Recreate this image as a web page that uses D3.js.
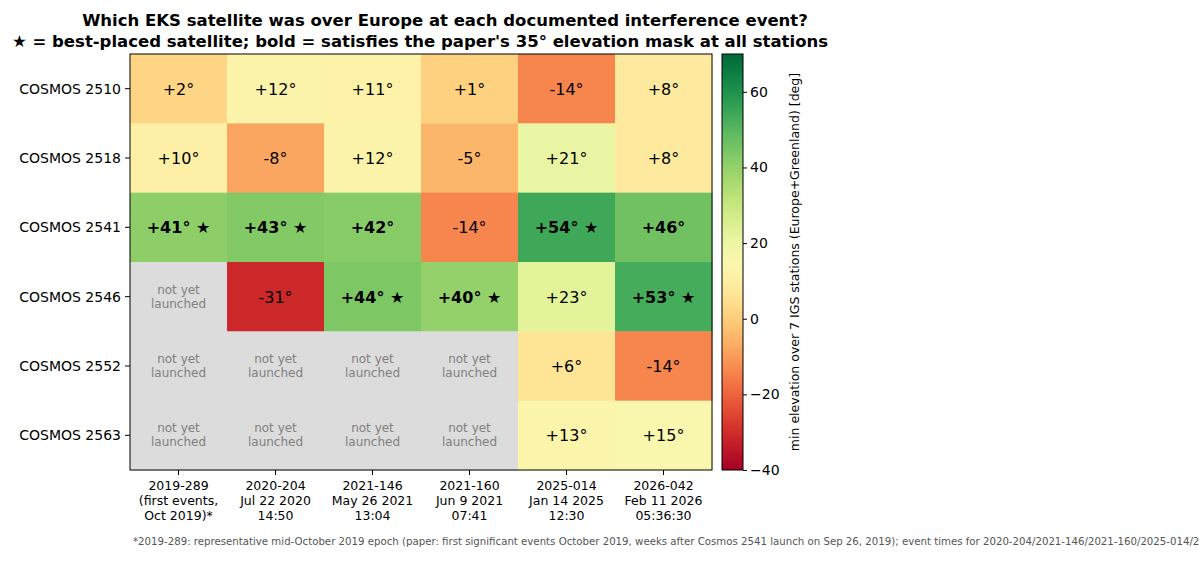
<!DOCTYPE html><html><head><meta charset="utf-8">
<script src="https://cdn.jsdelivr.net/npm/d3@7"></script>
<style>body{margin:0;background:#fff;font-family:"DejaVu Sans",sans-serif}</style></head><body>
<svg id="c" width="1199" height="563"></svg>
<script>
const sats=["COSMOS 2510","COSMOS 2518","COSMOS 2541","COSMOS 2546","COSMOS 2552","COSMOS 2563"];
const events=[["2019-289","(first events,","Oct 2019)*"],["2020-204","Jul 22 2020","14:50"],["2021-146","May 26 2021","13:04"],["2021-160","Jun 9 2021","07:41"],["2025-014","Jan 14 2025","12:30"],["2026-042","Feb 11 2026","05:36:30"]];
// null = not yet launched
const values=[[2,12,11,1,-14,8],[10,-8,12,-5,21,8],[41,43,42,-14,54,46],[null,-31,44,40,23,53],[null,null,null,null,6,-14],[null,null,null,null,13,15]];
const best=[[0,0,0,0,0,0],[0,0,0,0,0,0],[1,1,0,0,1,0],[0,0,1,1,0,1],[0,0,0,0,0,0],[0,0,0,0,0,0]];
const cbTicks=[-40,-20,0,20,40,60];
const svg=d3.select("#c");
const x=d3.scaleBand().domain(d3.range(6)).range([130,712]);
const y=d3.scaleBand().domain(d3.range(6)).range([54,470]);
const color=v=>d3.interpolateRdYlGn((v+40)/110);
svg.append("text").attr("x",445).attr("y",26).attr("text-anchor","middle").attr("font-size",16.5).attr("font-weight","bold").text("Which EKS satellite was over Europe at each documented interference event?");
svg.append("text").attr("x",420).attr("y",47).attr("text-anchor","middle").attr("font-size",16.5).attr("font-weight","bold").text("★ = best-placed satellite; bold = satisfies the paper's 35° elevation mask at all stations");
values.forEach((row,i)=>row.forEach((v,j)=>{
  const cx=x(j)+x.bandwidth()/2, cy=y(i)+y.bandwidth()/2;
  svg.append("rect").attr("x",x(j)).attr("y",y(i)).attr("width",x.bandwidth()+0.5).attr("height",y.bandwidth()+0.5).attr("fill",v==null?"#dcdcdc":color(v));
  if(v==null){
    svg.append("text").attr("x",cx).attr("y",cy-3).attr("text-anchor","middle").attr("font-size",12).attr("fill","#808080").text("not yet");
    svg.append("text").attr("x",cx).attr("y",cy+11).attr("text-anchor","middle").attr("font-size",12).attr("fill","#808080").text("launched");
  } else {
    const t=(v>0?"+":"")+v+"°"+(best[i][j]?" ★":"");
    svg.append("text").attr("x",cx).attr("y",cy+6).attr("text-anchor","middle").attr("font-size",16).attr("font-weight",v>=35?"bold":"normal").text(t);
  }
}));
svg.append("rect").attr("x",130).attr("y",54).attr("width",582).attr("height",416).attr("fill","none").attr("stroke","#000");
sats.forEach((s,i)=>{const cy=y(i)+y.bandwidth()/2;
  svg.append("line").attr("x1",125).attr("x2",130).attr("y1",cy).attr("y2",cy).attr("stroke","#000");
  svg.append("text").attr("x",121).attr("y",cy+5).attr("text-anchor","end").attr("font-size",14).text(s);});
events.forEach((e,j)=>{const cx=x(j)+x.bandwidth()/2;
  svg.append("line").attr("x1",cx).attr("x2",cx).attr("y1",470).attr("y2",475).attr("stroke","#000");
  e.forEach((l,k)=>svg.append("text").attr("x",cx).attr("y",490+k*15).attr("text-anchor","middle").attr("font-size",12.5).text(l));});
svg.append("text").attr("x",133).attr("y",545).attr("font-size",10.2).attr("fill","#555").text("*2019-289: representative mid-October 2019 epoch (paper: first significant events October 2019, weeks after Cosmos 2541 launch on Sep 26, 2019); event times for 2020-204/2021-146/2021-160/2025-014/2026-042 from the paper");
// colorbar
const cb=d3.scaleLinear().domain([-40,70]).range([470,54]);
const defs=svg.append("defs");const g=defs.append("linearGradient").attr("id","g").attr("x1",0).attr("y1",1).attr("x2",0).attr("y2",0);
d3.range(0,1.001,0.05).forEach(t=>g.append("stop").attr("offset",t).attr("stop-color",d3.interpolateRdYlGn(t)));
svg.append("rect").attr("x",722).attr("y",54).attr("width",21).attr("height",416).attr("fill","url(#g)").attr("stroke","#000");
const ax=svg.append("g").attr("transform","translate(743,0)").call(d3.axisRight(cb).tickValues(cbTicks).tickSize(4).tickFormat(d=>d<0?"−"+(-d):d));
ax.select(".domain").remove();ax.selectAll("text").attr("font-size",14).attr("font-family","DejaVu Sans");
svg.append("text").attr("transform","translate(799,262) rotate(-90)").attr("text-anchor","middle").attr("font-size",12.5).text("min elevation over 7 IGS stations (Europe+Greenland) [deg]");
</script></body></html>
